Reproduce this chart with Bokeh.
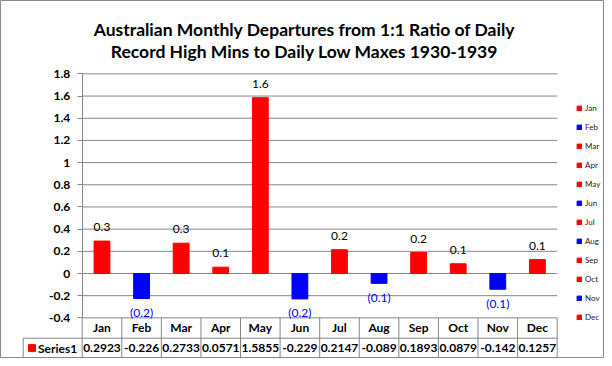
from bokeh.plotting import figure
from bokeh.models import (LinearAxis, FixedTicker, ColumnDataSource, Range1d,
                          Label, Legend, LegendItem)
from bokeh.core.properties import value
from bokeh.embed import file_html
from bokeh.resources import INLINE

# ---------------- data ----------------
months = ["Jan", "Feb", "Mar", "Apr", "May", "Jun",
          "Jul", "Aug", "Sep", "Oct", "Nov", "Dec"]
values = [0.2923, -0.226, 0.2733, 0.0571, 1.5855, -0.229,
          0.2147, -0.089, 0.1893, 0.0879, -0.142, 0.1257]
series_name = "Series1"
y_ticks = [-0.4, -0.2, 0, 0.2, 0.4, 0.6, 0.8, 1, 1.2, 1.4, 1.6, 1.8]
y_tick_labels = ["-0.4", "-0.2", "0", "0.2", "0.4", "0.6", "0.8",
                 "1", "1.2", "1.4", "1.6", "1.8"]
title_lines = ["Australian Monthly Departures from 1:1 Ratio of Daily",
               "Record High Mins to Daily Low Maxes 1930-1939"]

# ---------------- layout (pixels) ----------------
W, H = 604, 358
X0, XS = 81.7, 39.58      # pixel of column boundary 0, pixels per column
Y0, YS = 273.0, 110.9     # pixel of value 0, pixels per unit
FONT = "Lato"
F = value(FONT)
GRID = "#868686"
POS, NEG = "#FF0000", "#0000FF"


def dx(px):
    return (px - X0) / XS


def dy(py):
    return (Y0 - py) / YS


p = figure(width=W, height=H, output_backend="svg", toolbar_location=None,
           x_axis_type=None, y_axis_type=None, min_border=0,
           x_range=Range1d(dx(0), dx(W)), y_range=Range1d(dy(H), dy(0)))
p.outline_line_color = "#8a8a8a"
p.background_fill_color = "white"
p.border_fill_color = "white"

n = len(months)
ymin, ymax = y_ticks[0], y_ticks[-1]

# gridlines
p.segment(x0=[0] * len(y_ticks), x1=[n] * len(y_ticks), y0=y_ticks, y1=y_ticks,
          line_color=GRID, line_width=1)

# bars
xs = [i + 0.5 for i in range(n)]
colors = [POS if v >= 0 else NEG for v in values]
src = ColumnDataSource(dict(x=xs, top=values, color=colors, month=months))
bars = p.vbar(x="x", top="top", bottom=0, width=0.4, color="color", source=src)

# data labels
lab_txt = [f"{v:.1f}" if v >= 0 else f"({abs(v):.1f})" for v in values]
lab_col = ["black" if v >= 0 else NEG for v in values]
lab_off = [-14 if v >= 0 else 14 for v in values]
p.text(x=xs, y=values, text=lab_txt, text_color=lab_col, y_offset=lab_off,
       text_align="center", text_baseline="middle", text_font=F,
       text_font_size="12px")

# y axis
yax = LinearAxis(fixed_location=0, ticker=FixedTicker(ticks=y_ticks),
                 bounds=(ymin, ymax))
yax.major_label_overrides = {t: l for t, l in zip(y_ticks, y_tick_labels)}
yax.axis_line_color = GRID
yax.major_tick_line_color = GRID
yax.major_tick_out = 5
yax.major_tick_in = 0
yax.minor_tick_line_color = None
yax.major_label_standoff = 7
yax.major_label_text_font = FONT
yax.major_label_text_font_style = "bold"
yax.major_label_text_font_size = "12px"
yax.major_label_text_color = "black"
p.add_layout(yax, "left")

# data table under the chart
row_sep = dy(337.7)
row_bot = dy(357.2)
hdr_mid = dy(327.3)
val_mid = dy(347.6)
cell_left = dx(22.7)
p.segment(x0=[cell_left, cell_left], x1=[n, n], y0=[row_sep, row_bot],
          y1=[row_sep, row_bot], line_color=GRID)
p.segment(x0=list(range(n + 1)) + [cell_left], x1=list(range(n + 1)) + [cell_left],
          y0=[ymin] * (n + 1) + [row_sep], y1=[row_bot] * (n + 2),
          line_color=GRID)
p.text(x=xs, y=[hdr_mid] * n, text=months, text_align="center",
       text_baseline="middle", text_font=F, text_font_style="bold",
       text_font_size="12px", text_color="black")
p.text(x=xs, y=[val_mid] * n, text=[str(v) for v in values], text_align="center",
       text_baseline="middle", text_font=F, text_font_style="bold",
       text_font_size="12px", text_color="black")
p.scatter(x=[dx(31.5)], y=[val_mid], marker="square", size=7, color=POS)
p.text(x=[dx(37.5)], y=[val_mid], text=[series_name], text_align="left",
       text_baseline="middle", text_font=F, text_font_style="bold",
       text_font_size="12px", text_color="black")

# title
for line, base in zip(title_lines, [28.7, 51.3]):
    p.add_layout(Label(x=304, y=H - base, x_units="screen", y_units="screen",
                       text=line, text_align="center", text_baseline="alphabetic",
                       text_font=FONT, text_font_style="bold",
                       text_font_size="17.5px", text_color="black"))

# legend at right
items = [LegendItem(label=m, renderers=[bars], index=i) for i, m in enumerate(months)]
leg = Legend(items=items, location=(576, 35), orientation="vertical",
             glyph_width=6, glyph_height=6, label_height=12, spacing=7,
             label_standoff=3, padding=0, margin=0,
             label_text_font=FONT, label_text_font_size="8px",
             label_text_color="#222222",
             border_line_color=None, background_fill_alpha=0)
p.add_layout(leg, "center")

open("out.html", "w").write(file_html(p, INLINE))
